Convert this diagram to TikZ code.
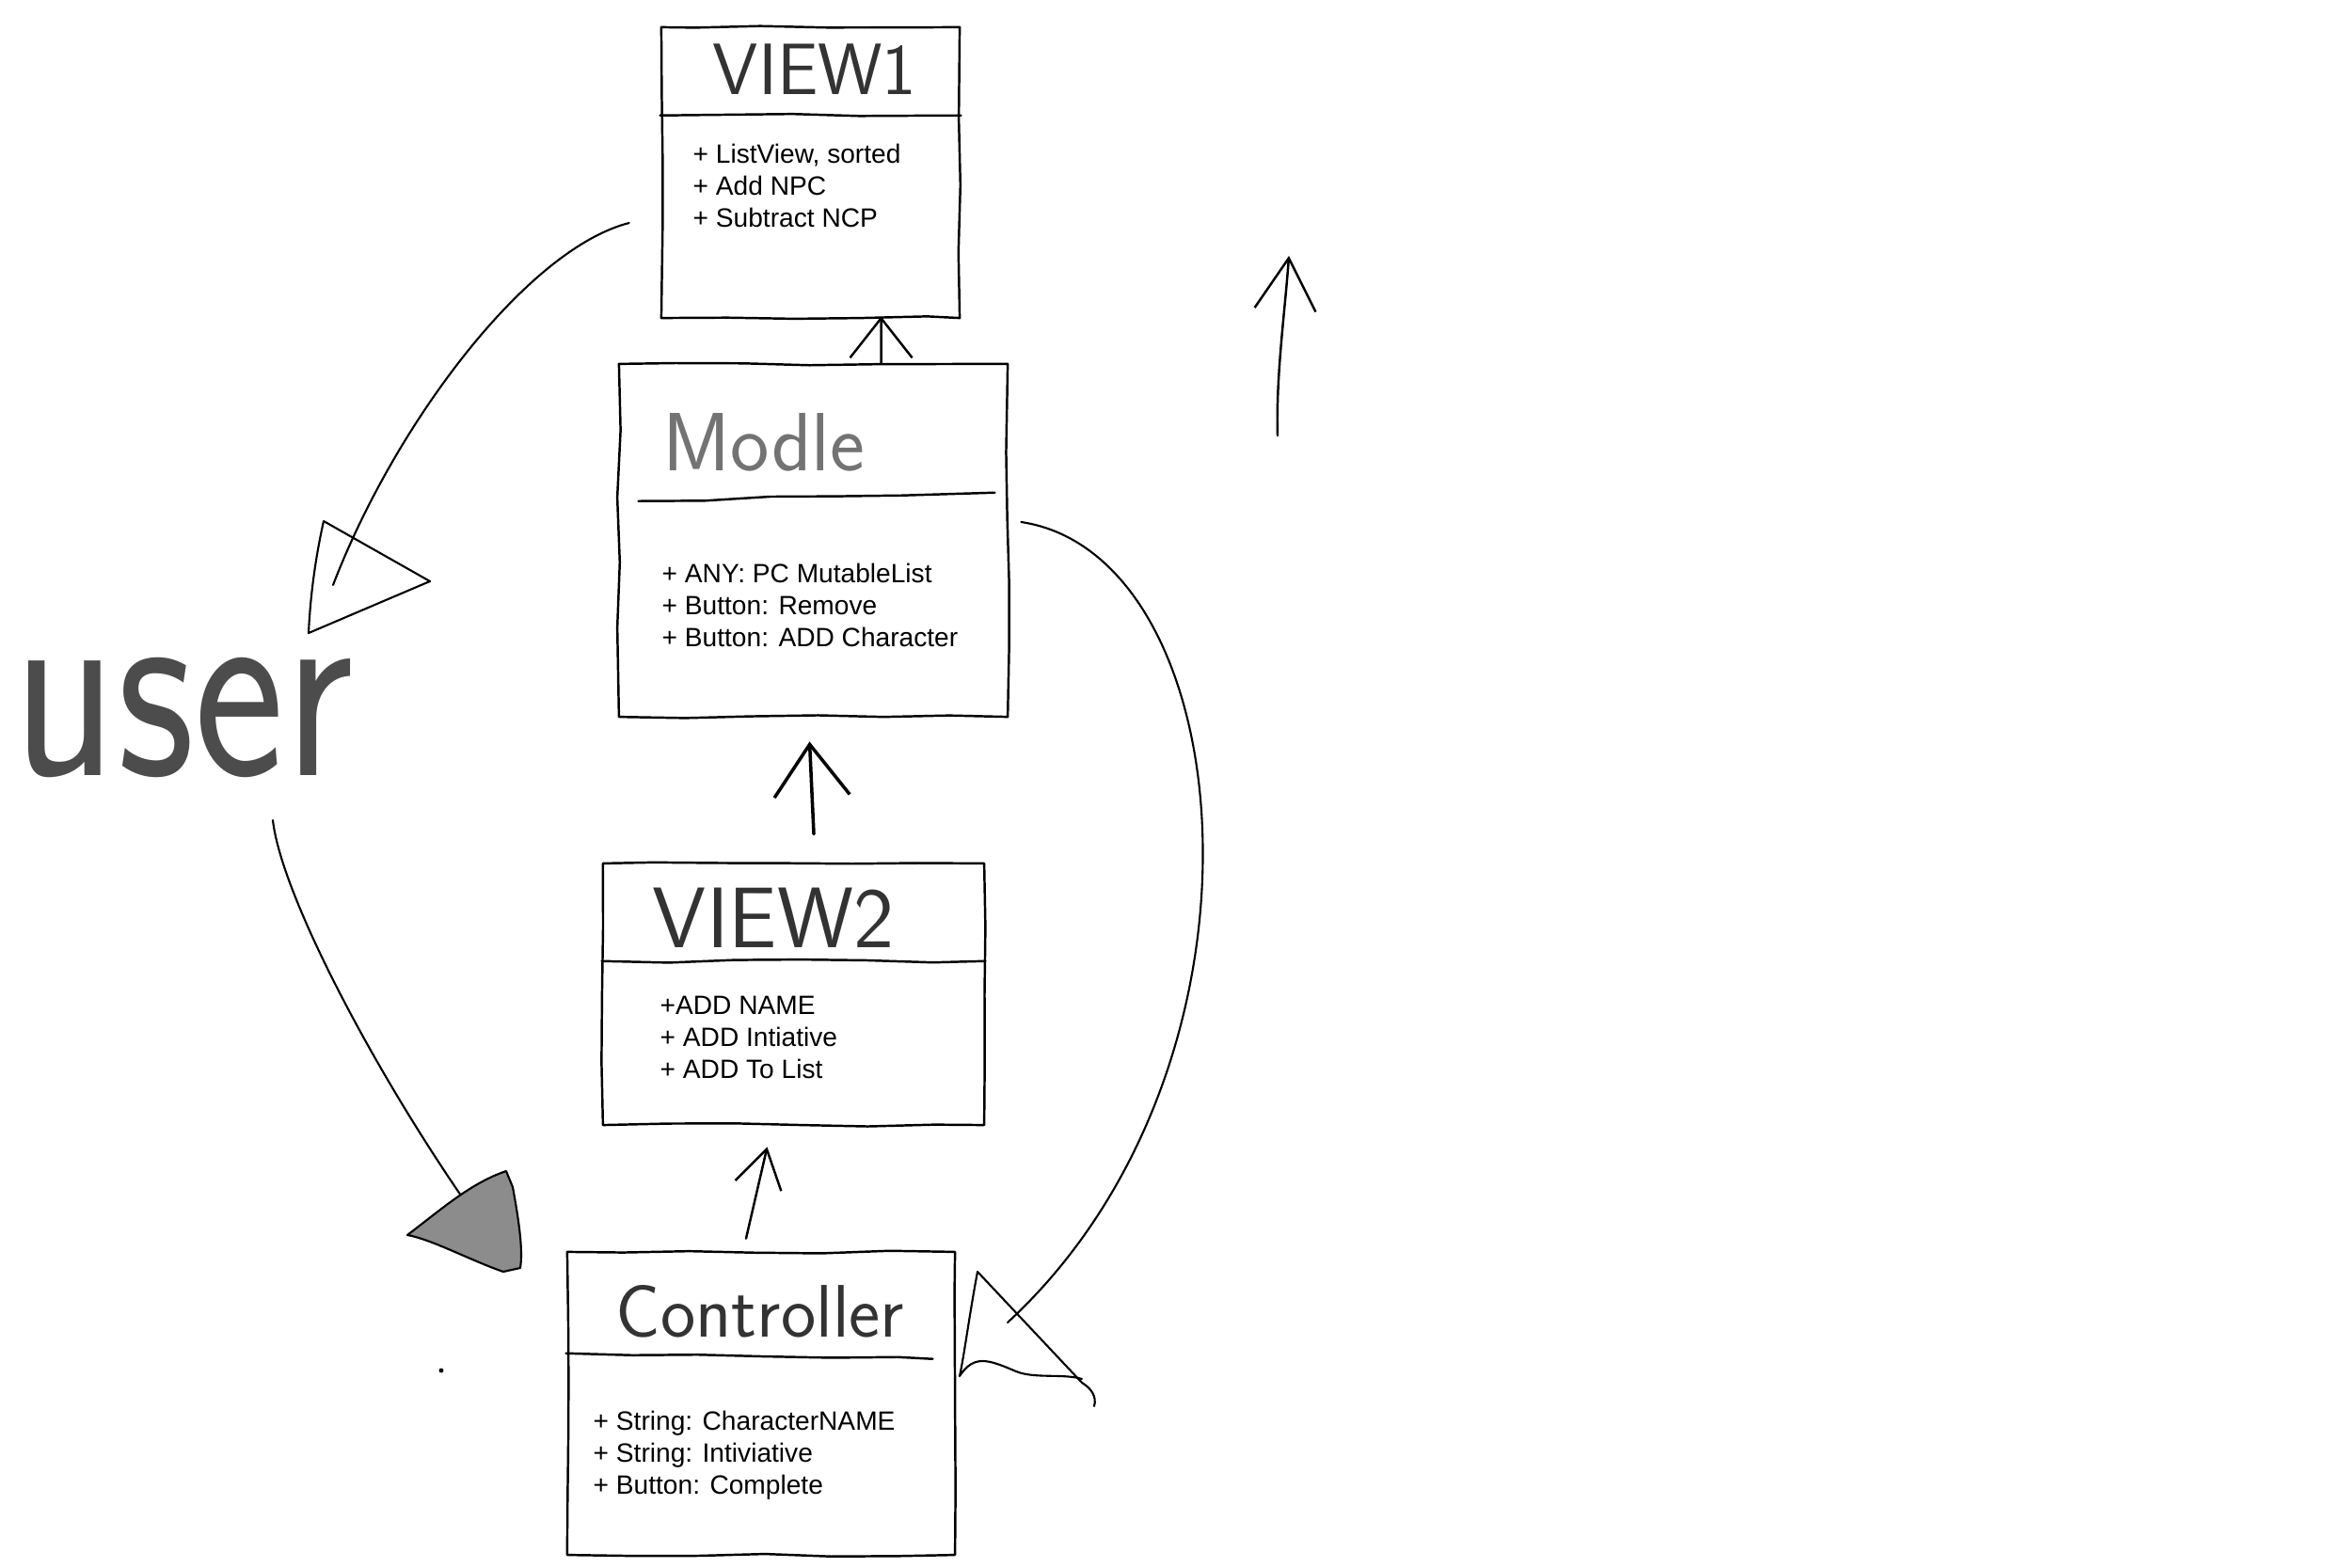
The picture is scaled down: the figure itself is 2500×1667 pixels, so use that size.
\documentclass[tikz,border=0pt]{standalone}
\usepackage{fontspec}
\setmainfont{Liberation Sans}
\usetikzlibrary{positioning,calc,arrows.meta,decorations.pathmorphing}

\tikzset{
    sketch/.style={line width=0.7pt, decorate,
        decoration={random steps, segment length=20pt, amplitude=0.5pt}},
    umlbox/.style={draw, sketch, inner sep=0pt},
    boxtitle/.style={font=\sffamily\fontsize{#1}{#1}\selectfont, inner sep=0pt, text=black!80},
    items/.style={font=\fontsize{8}{9.7}\selectfont, align=left,
        anchor=north west, inner sep=0pt},
    barb/.style n args={2}{line width=0.7pt,
        -{Straight Barb[length=#1, width=#2]}},
    wire/.style={line width=0.6pt}
}

\begin{document}
\pgfmathsetseed{7}
\begin{tikzpicture}[x=0.01cm, y=-0.01cm, line cap=round, line join=round]
    \useasboundingbox (0,0) rectangle (2500,1667);

    % VIEW1
    \node[umlbox, minimum width=3.17cm, minimum height=3.09cm] (view1) at (861.5,183.5) {};
    \draw[sketch] ([yshift=-0.95cm]view1.north west) -- ([yshift=-0.95cm]view1.north east);
    \node[boxtitle=22] (view1title) at (866,74) {VIEW1};
    \node[items] (view1items) at (736,152) {+ ListView, sorted\\+ Add NPC\\+ Subtract NCP};

    % Modle
    \node[umlbox, minimum width=4.13cm, minimum height=3.75cm] (modle) at (864.5,574.5) {};
    \draw[sketch] ([xshift=0.22cm,yshift=-1.47cm]modle.north west) -- ([xshift=-0.15cm,yshift=-1.38cm]modle.north east);
    \node[boxtitle=25, text=black!55] (modletitle) at (812,470) {Modle};
    \node[items] (modleitems) at (703,598) {+ ANY: PC MutableList\\+ Button: Remove\\+ Button: ADD Character};

    % VIEW2
    \node[umlbox, minimum width=4.05cm, minimum height=2.78cm] (view2) at (843.5,1057) {};
    \draw[sketch] ([yshift=-1.05cm]view2.north west) -- ([yshift=-1.05cm]view2.north east);
    \node[boxtitle=26] (view2title) at (822,976) {VIEW2};
    \node[items] (view2items) at (701,1058) {+ADD NAME\\+ ADD Intiative\\+ ADD To List};

    % Controller
    \node[umlbox, minimum width=4.12cm, minimum height=3.22cm] (controller) at (809,1492) {};
    \draw[sketch] ([yshift=-1.09cm]controller.north west) -- ([xshift=-0.25cm,yshift=-1.15cm]controller.north east);
    \node[boxtitle=22.5] (controllertitle) at (808,1394) {Controller};
    \node[items] (controlleritems) at (630,1499) {+ String: CharacterNAME\\+ String: Intiviative\\+ Button: Complete};

    % user
    \node[font=\sffamily\fontsize{62}{62}\selectfont, text=black!70, inner sep=0pt, anchor=base west] (user) at (13,824) {\scalebox{1.05}[1.3]{user}};

    % arrows between the boxes
    \draw[barb={0.42cm}{0.66cm}] ([xshift=0.72cm]modle.north) -- ([xshift=0.75cm,yshift=0.03cm]view1.south);
    \draw[barb={0.55cm}{0.8cm}, line width=1pt] ([xshift=0.215cm,yshift=0.3cm]view2.north) -- ([xshift=-0.04cm,yshift=-0.25cm]modle.south);
    \draw[barb={0.4cm}{0.5cm}] ([xshift=-0.16cm,yshift=0.13cm]controller.north) -- ([xshift=-0.28cm,yshift=-0.22cm]view2.south);

    % lone arrow
    \coordinate (lonetail) at (1358,463);
    \coordinate (lonetip) at (1370,272);
    \draw[barb={0.55cm}{0.65cm}] (lonetail) .. controls (1356,400) and (1366,330) .. (lonetip);

    % VIEW1 -> user
    \coordinate (userhead) at (354,622);
    \draw[wire] ([xshift=-0.33cm,yshift=-0.535cm]view1.west) .. controls (560,265) and (420,450) .. (userhead);
    \draw[wire] (344,554) -- (457,618) -- (328,673) .. controls (330,630) and (336,590) .. (344,554);

    % user -> Controller side
    \coordinate (userfoot) at (290,872);
    \coordinate (leftend) at (530,1327);
    \draw[wire] (userfoot) .. controls (300,960) and (420,1180) .. (leftend);
    \filldraw[wire, fill=black!45] (433,1313) .. controls (470,1285) and (500,1258) .. (538,1245)
        -- (545,1262) .. controls (552,1300) and (556,1330) .. (553,1348)
        -- (535,1352) .. controls (500,1340) and (460,1318) .. cycle;
    \fill (469,1457) circle[radius=0.7pt];

    % Modle -> Controller
    \coordinate (ctrlhead) at (1071,1406);
    \draw[wire] ([xshift=0.13cm,yshift=0.195cm]modle.east) .. controls (1320,590) and (1370,1130) .. (ctrlhead);
    \draw[wire] (1039,1352) -- (1150,1470) .. controls (1160,1476) and (1166,1485) .. (1163,1495);
    \draw[wire] (1039,1352) .. controls (1030,1400) and (1025,1440) .. (1020,1463)
        .. controls (1035,1440) and (1050,1445) .. (1080,1458)
        .. controls (1100,1466) and (1130,1460) .. (1150,1466);
\end{tikzpicture}
\end{document}
